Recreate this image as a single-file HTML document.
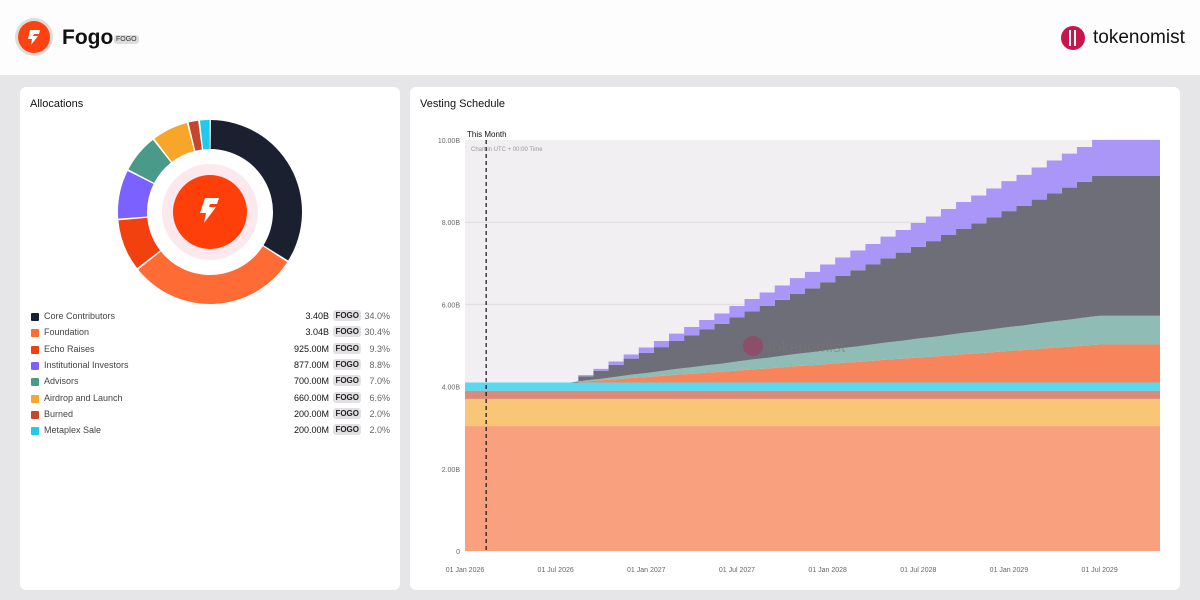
<!DOCTYPE html>
<html><head><meta charset="utf-8"><style>
body{margin:0;width:1200px;height:600px;background:#e6e5e7;font-family:"Liberation Sans",sans-serif;position:relative;overflow:hidden}
.hdr{position:absolute;left:0;top:0;width:1200px;height:75px;background:#fdfdfd}
.panel{position:absolute;background:#fff;border-radius:6px}
.title{position:absolute;left:10px;top:11px;font-size:11px;color:#111}
.leg{position:absolute;left:10px;font-size:9px;color:#444;width:360px;height:14px}
.sw{position:absolute;left:1px;top:2px;width:8px;height:8px;border-radius:1px}
.lname{position:absolute;left:14px;top:0}
.amt{position:absolute;right:61px;top:0;color:#111}
.tag{position:absolute;right:29px;top:-1px;background:#e2e0e3;border-radius:3px;font-size:8px;padding:1px 2px;color:#222;font-weight:bold}
.pct{position:absolute;right:0;top:0;color:#666}
</style></head><body>
<div class="hdr">
  <svg width="40" height="40" style="position:absolute;left:14px;top:17px"><circle cx="20" cy="20" r="19" fill="#ddd"/><circle cx="20" cy="20" r="16" fill="#ff4211"/><path d="M16 13h10l-1 4h-5l-1 2h5l-7 9 1-6h-4z" fill="#fff"/></svg>
  <div style="position:absolute;left:62px;top:26px;font-size:21px;font-weight:bold;color:#111">Fogo</div>
  <div style="position:absolute;left:114px;top:35px;font-size:7px;background:#dedcdf;border-radius:3px;padding:1px 2px;color:#333">FOGO</div>
  <svg width="26" height="26" style="position:absolute;left:1060px;top:25px"><circle cx="13" cy="13" r="12" fill="#c8154c"/><rect x="9" y="5" width="2" height="16" fill="#fff"/><rect x="14" y="5" width="2" height="16" fill="#fff"/></svg>
  <div style="position:absolute;left:1093px;top:27px;font-size:19px;color:#111">tokenomist</div>
</div>

<div class="panel" style="left:20px;top:87px;width:380px;height:503px">
  <div class="title">Allocations</div>
  <svg id="donut" width="380" height="230" style="position:absolute;left:0;top:0"></svg>
  <div id="legend"></div>
</div>

<div class="panel" style="left:410px;top:87px;width:770px;height:503px">
  <div class="title">Vesting Schedule</div>
</div>
<svg id="chart" width="1200" height="600" style="position:absolute;left:0;top:0"></svg>

<script>
const allocNames=["Core Contributors","Foundation","Echo Raises","Institutional Investors","Advisors","Airdrop and Launch","Burned","Metaplex Sale"];
const allocAmounts=["3.40B","3.04B","925.00M","877.00M","700.00M","660.00M","200.00M","200.00M"];
const allocPct=[34.0,30.4,9.3,8.8,7.0,6.6,2.0,2.0];
const allocColors=["#1b2030","#ff6b35","#f2400f","#7b61ff","#4a9a8a","#f7a62a","#c2472d","#1fcbea"];
const NS="http://www.w3.org/2000/svg";
function mk(p,t,a){const e=document.createElementNS(NS,t);for(const k in a)e.setAttribute(k,a[k]);p.appendChild(e);return e;}
const d=document.getElementById('donut');const cx=190,cy=125,R=92,r=63;
let ang=0;const gap=0.02;
allocPct.forEach((v,i)=>{const a0=ang+gap/2,a1=ang+v/100*2*Math.PI-gap/2;ang+=v/100*2*Math.PI;
 const P=(rad,a)=>[cx+rad*Math.sin(a),cy-rad*Math.cos(a)];const large=a1-a0>Math.PI?1:0;
 const [x0,y0]=P(R,a0),[x1,y1]=P(R,a1),[x2,y2]=P(r,a1),[x3,y3]=P(r,a0);
 const s=mk(d,'path',{d:`M${x0} ${y0}A${R} ${R} 0 ${large} 1 ${x1} ${y1}L${x2} ${y2}A${r} ${r} 0 ${large} 0 ${x3} ${y3}Z`,fill:allocColors[i]});
 
 });
mk(d,'circle',{cx,cy,r:48,fill:'#fbe9ee'});mk(d,'circle',{cx,cy,r:37,fill:'#ff3f0a'});
mk(d,'path',{d:`M${cx-5} ${cy-14}h14l-2 6h-7l-1 3h7l-12 16 2-10h-6z`,fill:'#fff'});
const L=document.getElementById('legend');
allocNames.forEach((n,i)=>{const e=document.createElement('div');e.className='leg';e.style.top=(224+i*16.3)+'px';
 
 
 e.innerHTML=`<span class="sw" style="background:${allocColors[i]}"></span><span class="lname">${n}</span><span class="amt">${allocAmounts[i]}</span><span class="tag">FOGO</span><span class="pct">${allocPct[i].toFixed(1)}%</span>`;L.appendChild(e);});

const staticNames=["Foundation","Airdrop and Launch","Burned","Metaplex Sale"];
const staticValues=[3.04,0.66,0.2,0.2];
const staticColors=["#f9a17f","#f9c577","#dd8b79","#5bd7f0"];
const Z8=[0,0,0,0,0,0,0,0];
const echo=Z8.concat([0.03,0.05,0.08,0.11,0.13,0.16,0.19,0.21,0.24,0.26,0.29,0.32,0.34,0.37,0.40,0.42,0.45,0.48,0.50,0.53,0.56,0.58,0.61,0.63,0.66,0.69,0.71,0.74,0.77,0.79,0.82,0.85,0.87,0.90,0.925,0.925,0.925,0.925]);
const advisors=Z8.concat([0.02,0.04,0.06,0.08,0.10,0.12,0.14,0.16,0.18,0.20,0.22,0.24,0.26,0.28,0.30,0.32,0.34,0.36,0.38,0.40,0.42,0.44,0.46,0.48,0.50,0.52,0.54,0.56,0.58,0.60,0.62,0.64,0.66,0.68,0.70,0.70,0.70,0.70]);
const core=Z8.concat([0.10,0.19,0.29,0.39,0.49,0.58,0.68,0.78,0.87,0.97,1.07,1.17,1.26,1.36,1.46,1.55,1.65,1.75,1.85,1.94,2.04,2.14,2.23,2.33,2.43,2.53,2.62,2.72,2.82,2.91,3.01,3.11,3.21,3.30,3.40,3.40,3.40,3.40]);
const inst=Z8.concat([0.03,0.05,0.08,0.10,0.13,0.15,0.18,0.20,0.23,0.25,0.28,0.30,0.33,0.35,0.38,0.40,0.43,0.45,0.48,0.50,0.53,0.55,0.58,0.60,0.63,0.65,0.68,0.70,0.73,0.75,0.78,0.80,0.83,0.85,0.877,0.877,0.877,0.877]);
const yTicks=[0,2,4,6,8,10];
const yTickLabels=["0","2.00B","4.00B","6.00B","8.00B","10.00B"];
const xTickMonths=[0,6,12,18,24,30,36,42];
const xTickLabels=["01 Jan 2026","01 Jul 2026","01 Jan 2027","01 Jul 2027","01 Jan 2028","01 Jul 2028","01 Jan 2029","01 Jul 2029"];
const thisMonth=1.4;
const X0=465,X1=1160,Y0=551,Y1=140,MW=15.11;
const xs=m=>X0+m*MW, ys=v=>Y0-(v/10)*(Y0-Y1);
const c=document.getElementById('chart');
mk(c,'rect',{x:X0,y:Y1,width:X1-X0,height:Y0-Y1,fill:'#f1eff1'});
yTicks.forEach((t,i)=>{if(t>0&&t<10)mk(c,'line',{x1:X0,x2:X1,y1:ys(t),y2:ys(t),stroke:'#dedcde','stroke-width':1});
 const tx=mk(c,'text',{x:X0-5,y:ys(t)+3,'text-anchor':'end','font-size':7,fill:'#666'});tx.textContent=yTickLabels[i];
 
 });
xTickMonths.forEach((m,i)=>{const tx=mk(c,'text',{x:xs(m),y:572,'text-anchor':'middle','font-size':7,fill:'#666'});tx.textContent=xTickLabels[i];
 
 });
let base=0;
staticValues.forEach((v,i)=>{const r=mk(c,'rect',{x:X0,y:ys(base+v),width:X1-X0,height:ys(base)-ys(base+v),fill:staticColors[i]});
 
 base+=v;});
const N=echo.length;
const cum=[[],[],[],[]];
for(let k=0;k<N;k++){let b=base;b+=echo[k];cum[0][k]=b;b+=advisors[k];cum[1][k]=b;b+=core[k];cum[2][k]=b;b+=inst[k];cum[3][k]=b;}
const lo=k=>Math.max(X0,xs(k-0.5)), hi=k=>(k===N-1?X1:Math.min(X1,xs(k+0.5)));
function linTop(arr){let p=[];for(let k=0;k<N;k++)p.push([xs(k),ys(arr[k])]);p[0][0]=X0;p.push([X1,ys(arr[N-1])]);return p;}
function stepTop(arr){let p=[];for(let k=0;k<N;k++){p.push([lo(k),ys(arr[k])]);p.push([hi(k),ys(arr[k])]);}return p;}
const baseLine=[[X0,ys(base)],[X1,ys(base)]];
const layers=[[linTop(cum[0]),baseLine,'#f8845c','area-echo-raises'],[linTop(cum[1]),linTop(cum[0]),'#8fbdb5','area-advisors'],[stepTop(cum[2]),linTop(cum[1]),'#6e6e78','area-core-contributors'],[stepTop(cum[3]),stepTop(cum[2]),'#a996f6','area-institutional-investors']];
layers.forEach(([top,bot,col,name])=>{const pts=top.concat(bot.slice().reverse()).map(p=>p.join(',')).join(' ');
 const pg=mk(c,'polygon',{points:pts,fill:col});
 
 });
mk(c,'circle',{cx:753,cy:346,r:10,fill:'#c8154c',opacity:0.35});
const wm=mk(c,'text',{x:768,y:352,'font-size':16,fill:'#777',opacity:0.5});wm.textContent='tokenomist';


const tmx=xs(thisMonth);
const tl=mk(c,'line',{x1:tmx,x2:tmx,y1:Y1,y2:Y0,stroke:'#111','stroke-dasharray':'4,3','stroke-width':1.2});


const tt=mk(c,'text',{x:467,y:137,'font-size':8,fill:'#111'});tt.textContent='This Month';


const ct=mk(c,'text',{x:471,y:151,'font-size':6,fill:'#999'});ct.textContent='Chart in UTC + 00:00 Time';


</script>
</body></html>
